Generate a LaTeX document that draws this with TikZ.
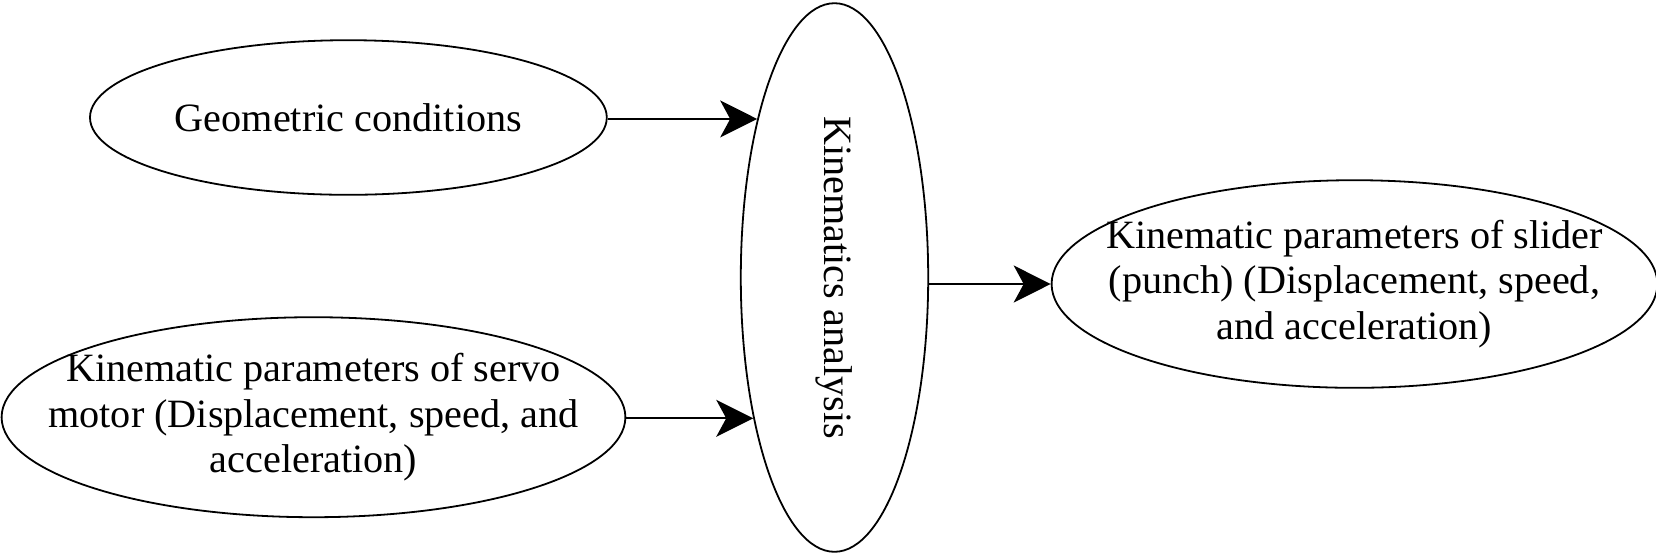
\documentclass[tikz,border=0pt]{standalone}
\usepackage{fontspec}
\setmainfont{Liberation Serif}
\usetikzlibrary{arrows.meta,shapes.geometric}

\begin{document}
\begin{tikzpicture}[x=0.5pt, y=-0.5pt, line width=0.9pt,
node_style/.style={ellipse,draw=black,fill=white,inner sep=0pt,align=center,font=\fontsize{20.1}{22.8}\selectfont},
edge_style/.style={draw=black, line width=0.9pt, -{Stealth[length=18.5pt,width=18.5pt,inset=5pt]}}]
\useasboundingbox (0,0) rectangle (1656,554);
\node[node_style, minimum width=258.4pt, minimum height=77.3pt] (geo) at (348.4,117.5) {Geometric conditions};
\node[node_style, inner xsep=-25pt, minimum width=311.9pt, minimum height=100pt] (servo) at (313.5,417.2) {Kinematic parameters of servo\\motor (Displacement, speed, and\\acceleration)};
\node[node_style, minimum width=93.7pt, minimum height=274.3pt] (kin) at (834.5,277.5) {\rotatebox{-90}{Kinematics analysis}};
\node[node_style, inner xsep=-20pt, minimum width=302.9pt, minimum height=103.8pt] (slider) at (1354.5,284) {Kinematic parameters of slider\\(punch) (Displacement, speed,\\and acceleration)};

\draw[edge_style]  (geo.east |- kin.116.6) -- (kin.116.6);
\draw[edge_style]  (servo.east |- kin.240.5) -- (kin.240.5);
\draw[edge_style]  (slider.west -| kin.east) -- (slider.west);

\end{tikzpicture}
\end{document}
